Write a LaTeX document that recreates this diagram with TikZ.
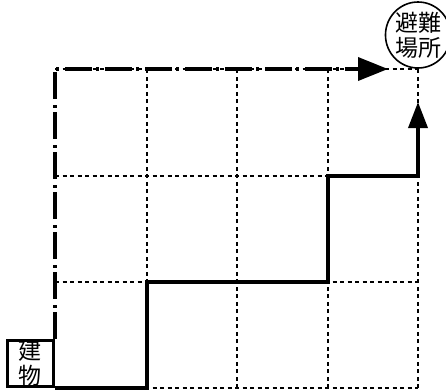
\documentclass[tikz,border=0pt]{standalone}
\usepackage{fontspec}
\newfontfamily\cjk{Noto Sans CJK JP}
\usetikzlibrary{arrows.meta,shapes.geometric}
\begin{document}
\begin{tikzpicture}[x=1pt,y=-1pt,
  gridline/.style={line width=2pt, dash pattern=on 4pt off 3.5pt},
  route/.style={line width=3.6pt},
  dashroute/.style={line width=3.6pt, dash pattern=on 27pt off 4pt on 3pt off 6pt},
  txt/.style={font=\cjk\fontsize{23}{25}\selectfont, align=center, inner sep=0pt},
  bigtip/.style={-{Triangle[length=30pt,width=23pt]}},
  uptip/.style={-{Triangle[length=26pt,width=19pt]}}
]
\useasboundingbox (0,0) rectangle (446,389);
% grid coordinates
\foreach \i/\x in {0/55,1/147,2/237,3/328,4/418}{
  \foreach \j/\y in {0/388,1/282,2/176,3/69}{
    \coordinate (c-\i-\j) at (\x,\y);
  }
}
% dotted grid
\foreach \i in {1,2,3,4}{
  \draw[gridline] (c-\i-0) -- (c-\i-3);
}
\foreach \j in {0,1,2,3}{
  \draw[gridline] (c-0-\j) -- (c-4-\j);
}
% nodes
\node[draw, line width=3.2pt, minimum width=46pt, minimum height=46pt, inner sep=0pt,
      txt, anchor=south east] (bldg) at (c-0-0) {建\\物};
\node[draw, ellipse, line width=1.6pt, minimum width=56pt, minimum height=66pt,
      txt] (shelter) at (418,35) {避難\\場所};
\draw[gridline] (c-4-3) -- (shelter.south);
% arrow end points
\coordinate (tiph) at (388,69);
\coordinate (tipv) at (418,102);
\coordinate (tipbase) at (357,69);
% routes
\draw[route, uptip] (bldg.south east) -- (c-1-0) -- (c-1-1) -- (c-3-1) -- (c-3-2) -- (c-4-2) -- (tipv);
\draw[dashroute] (bldg.north east) -- (c-0-3) -- (tipbase);
\draw[route, bigtip] (tipbase) -- (tiph);
\end{tikzpicture}
\end{document}
